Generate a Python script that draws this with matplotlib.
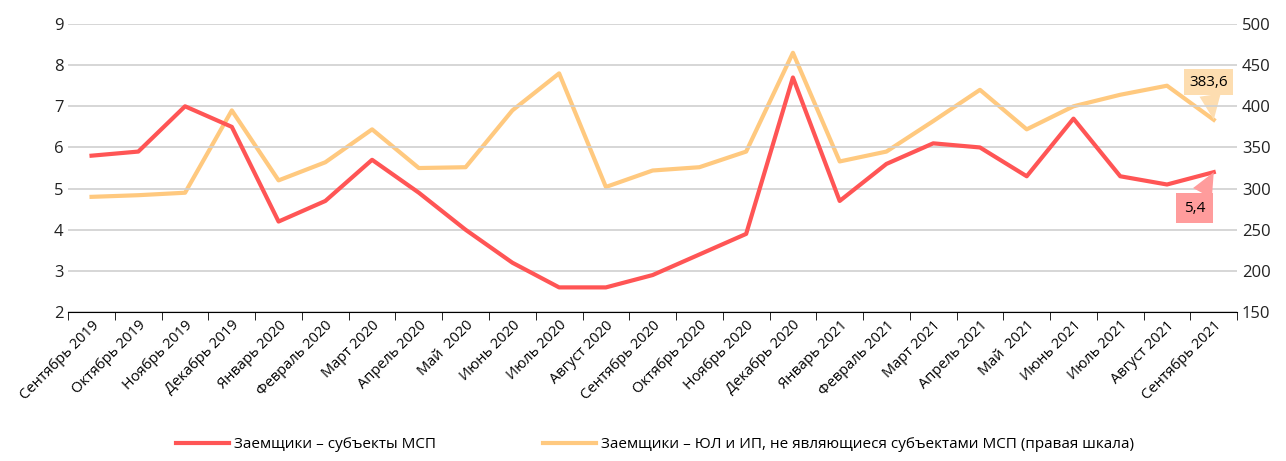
import matplotlib
matplotlib.use("Agg")
import matplotlib.pyplot as plt

plt.rcParams['font.family'] = ['Open Sans', 'DejaVu Sans']

months = ['Сентябрь 2019', 'Октябрь 2019', 'Ноябрь 2019', 'Декабрь 2019',
          'Январь 2020', 'Февраль 2020', 'Март 2020', 'Апрель 2020', 'Май  2020',
          'Июнь 2020', 'Июль 2020', 'Август 2020', 'Сентябрь 2020', 'Октябрь 2020',
          'Ноябрь 2020', 'Декабрь 2020', 'Январь 2021', 'Февраль 2021', 'Март 2021',
          'Апрель 2021', 'Май  2021', 'Июнь 2021', 'Июль 2021', 'Август 2021',
          'Сентябрь 2021']
msp = [5.8, 5.9, 7.0, 6.5, 4.2, 4.7, 5.7, 4.9, 4.0, 3.2, 2.6, 2.6, 2.9, 3.4,
       3.9, 7.7, 4.7, 5.6, 6.1, 6.0, 5.3, 6.7, 5.3, 5.1, 5.4]
non_msp = [290, 292, 295, 395, 310, 332, 372, 325, 326, 395, 440, 302, 322, 326,
           345, 465, 333, 345, 382, 420, 372, 400, 414, 425, 383.6]

label_msp = 'Заемщики – субъекты МСП'
label_non = 'Заемщики – ЮЛ и ИП, не являющиеся субъектами МСП (правая шкала)'

red = '#FF5555'
yellow = '#FFC97F'

fig = plt.figure(figsize=(12.86, 4.61), dpi=100)
ax1 = fig.add_axes([0.053, 0.323, 0.909, 0.625])
ax2 = ax1.twinx()

x = list(range(len(months)))
l1, = ax1.plot(x, msp, color=red, lw=3, label=label_msp, zorder=3)
l2, = ax2.plot(x, non_msp, color=yellow, lw=3, label=label_non, zorder=2)

ax1.set_zorder(ax2.get_zorder() + 1)
ax1.patch.set_visible(False)

ax1.set_ylim(2, 9)
ax2.set_ylim(150, 500)
ax1.set_xlim(-0.5, len(months) - 0.5)
ax1.set_yticks(range(2, 10))
ax2.set_yticks(range(150, 501, 50))
ax1.grid(axis='y', color='#D0D0D0', lw=1.2)
ax1.set_axisbelow(True)

for ax in (ax1, ax2):
    for s in ('top', 'left', 'right'):
        ax.spines[s].set_visible(False)
    ax.tick_params(axis='y', length=0, labelsize=12, colors='#222222')
ax2.spines['bottom'].set_visible(False)
ax1.spines['bottom'].set_color('black')

ax1.set_xticks(x)
ax1.set_xticklabels(months, rotation=45, ha='right', rotation_mode='anchor',
                    fontsize=10.5)
ax1.tick_params(axis='x', which='major', length=0, pad=4)
ax1.set_xticks([i - 0.5 for i in range(len(months) + 1)], minor=True)
ax1.tick_params(axis='x', which='minor', length=6, color='black', direction='out')

# callouts on last points
ax1.annotate('5,4', xy=(x[-1], msp[-1]), xytext=(-14, -26),
             textcoords='offset points', ha='center', va='center', fontsize=11,
             bbox=dict(boxstyle='square,pad=0.5', fc='#FF9C9C', ec='none'),
             arrowprops=dict(arrowstyle='wedge,tail_width=1.4', fc='#FF9C9C',
                             ec='none', shrinkA=0, shrinkB=0))
ax2.annotate('383,6', xy=(x[-1], non_msp[-1]), xytext=(-4, 27),
             textcoords='offset points', ha='center', va='center', fontsize=11,
             bbox=dict(boxstyle='square,pad=0.35', fc='#FDDDB0', ec='none'),
             arrowprops=dict(arrowstyle='wedge,tail_width=1.4', fc='#FDDDB0',
                             ec='none', shrinkA=0, shrinkB=0))

fig.legend(handles=[l1, l2], loc='lower left', bbox_to_anchor=(0.126, -0.01),
           ncol=2, frameon=False, fontsize=11, handlelength=3.5,
           handletextpad=0.3, columnspacing=7)

fig.savefig('out.png', dpi=100)
